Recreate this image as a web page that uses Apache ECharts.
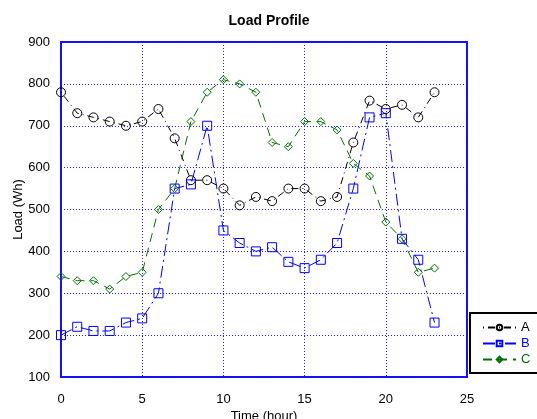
<!DOCTYPE html>
<html><head><meta charset="utf-8">
<script src="https://cdn.jsdelivr.net/npm/echarts@6/dist/echarts.min.js"></script>
<style>html,body{margin:0;padding:0;background:#fff}#c{width:537px;height:419px}</style>
</head><body><div id="c"></div>
<script>
const hours = [0,1,2,3,4,5,6,7,8,9,10,11,12,13,14,15,16,17,18,19,20,21,22,23];
const seriesA = [780,730,720,710,700,710,740,670,570,570,550,510,530,520,550,550,520,530,660,760,740,750,720,780];
const seriesB = [200,220,210,210,230,240,300,550,560,700,450,420,400,410,375,360,380,420,550,720,730,430,380,230];
const seriesC = [340,330,330,310,340,350,500,550,710,780,810,800,780,660,650,710,710,690,610,580,470,430,350,360];
const names = ['A','B','C'];
const colors = ['#000000','#0000ff','#007000'];
const font = 'Liberation Sans, Arial, sans-serif';
function pts(v){return hours.map((h,i)=>[h,v[i]]);}
const chart = echarts.init(document.getElementById('c'));
function mk(name,data,color,symbol,size,dash){
  return {name:name,type:'line',data:pts(data),symbol:symbol,symbolSize:size,
    lineStyle:{color:color,width:1,type:dash},
    itemStyle:{color:'rgba(255,255,255,0)',borderColor:color,borderWidth:1}};
}
chart.setOption({
  animation:false,
  title:{text:'Load Profile',left:264,textAlign:'center',top:9,textStyle:{fontSize:14,fontWeight:'bold',fontFamily:font,color:'#000'}},
  grid:{left:61,right:70,top:42,bottom:42,show:true,borderColor:'#1010ff',borderWidth:2,outerBoundsMode:'none',containLabel:false},
  xAxis:{type:'value',min:0,max:25,interval:5,name:'Time (hour)',nameLocation:'middle',nameGap:33,nameMoveOverlap:false,
    nameTextStyle:{fontSize:13,fontFamily:font,color:'#000',verticalAlign:'top'},
    axisLine:{show:false},axisTick:{show:false},
    axisLabel:{fontSize:13,fontFamily:font,color:'#000',margin:16},
    splitLine:{show:true,lineStyle:{color:'#2020ff',type:[1,2],width:1}}},
  yAxis:{type:'value',min:100,max:900,interval:100,name:'Load (Wh)',nameLocation:'middle',nameGap:36,nameMoveOverlap:false,
    nameTextStyle:{fontSize:13,fontFamily:font,color:'#000'},
    axisLine:{show:false},axisTick:{show:false},
    axisLabel:{fontSize:13,fontFamily:font,color:'#000',margin:11},
    splitLine:{show:true,lineStyle:{color:'#2020ff',type:[1,2],width:1}}},
  legend:{orient:'vertical',left:470,top:313,itemWidth:33,itemHeight:7,itemGap:3,padding:[8,14,7,12],
    borderColor:'#000',borderWidth:2,backgroundColor:'#fff',
    data:names.map((n,i)=>({name:n,textStyle:{color:colors[i]}})),
    textStyle:{fontSize:13,fontFamily:font}},
  series:[
    mk('A',seriesA,colors[0],'circle',9,[1,4,7,4]),
    mk('B',seriesB,colors[1],'rect',9,[12,4,2,4]),
    mk('C',seriesC,colors[2],'diamond',8,[9,6])
  ]
});
</script></body></html>
